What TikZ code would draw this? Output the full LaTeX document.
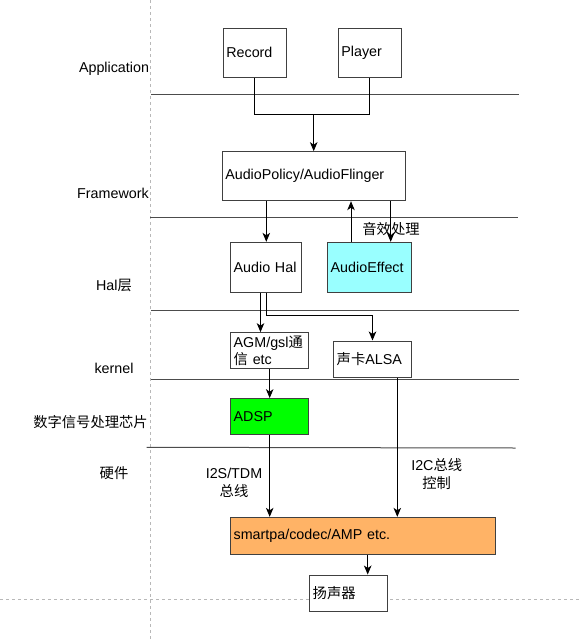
\documentclass[tikz,border=0pt]{standalone}
\usepackage{fontspec}
\setmainfont{Liberation Sans}
\newfontfamily\cjk{Noto Sans CJK SC}
\usetikzlibrary{arrows.meta}
\definecolor{effc}{HTML}{99FFFF}
\definecolor{dspc}{HTML}{00FF00}
\definecolor{ampc}{HTML}{FFB366}
\begin{document}
\begin{tikzpicture}[x=1pt,y=-1pt,
  every node/.style={font=\fontsize{14.3}{17.7}\selectfont},
  box/.style={draw=black!75, line width=1pt, fill=white, inner xsep=3pt, inner ysep=0pt, align=left},
  sepline/.style={draw=black!70, line width=1pt},
  arr/.style={draw=black, line width=1pt, -{Stealth[length=9pt,width=7.5pt,inset=2.5pt]}},
  wire/.style={draw=black, line width=1pt},
  guide/.style={draw=black!28, line width=0.8pt, dash pattern=on 3pt off 3pt},
  lbl/.style={align=center, inner sep=0pt}]
\useasboundingbox (0,0) rectangle (579,640);
% guides
\coordinate (gv1) at (150.7,0);
\coordinate (gv2) at (150.7,640);
\coordinate (gh1) at (0,599.3);
\coordinate (gh2) at (579,599.3);
\draw[guide] (gv1) -- (gv2);
\draw[guide] (gh1) -- (gh2);
% separators
\coordinate (s1a) at (151,94);    \coordinate (s1b) at (519,94);
\coordinate (s2a) at (150,217.7); \coordinate (s2b) at (518,217.7);
\coordinate (s3a) at (151,310);   \coordinate (s3b) at (519,310);
\coordinate (s4a) at (151,379.7); \coordinate (s4b) at (519,379.7);
\coordinate (s5a) at (146.7,447.3); \coordinate (s5b) at (515.7,448);
\draw[sepline] (s1a) -- (s1b);
\draw[sepline] (s2a) -- (s2b);
\draw[sepline] (s3a) -- (s3b);
\draw[sepline] (s4a) -- (s4b);
\draw[sepline] (s5a) -- (s5b);
% layer labels
\node[lbl] (lapp) at (114,69.3) {Application};
\node[lbl] (lfw) at (113,193.3) {Framework};
\node[lbl] (lhal) at (114,285) {Hal{\cjk 层}};
\node[lbl] (lker) at (114,368.3) {kernel};
\node[lbl] (ldsp) at (90.5,421.7) {\cjk 数字信号处理芯片};
\node[lbl] (lhw) at (114,473.3) {\cjk 硬件};
% boxes
\node[box, text width=56.7pt, minimum height=49pt] (rec) at (254.7,52.5) {Record};
\node[box, text width=56.7pt, minimum height=49pt] (ply) at (369.7,52.5) {Player};
\node[box, text width=177pt, minimum height=49pt] (apf) at (313.8,176.2) {AudioPolicy/AudioFlinger};
\node[box, text width=65.3pt, minimum height=49.7pt] (hal) at (266.3,267.2) {Audio Hal};
\node[box, fill=effc, text width=78pt, minimum height=49.7pt] (eff) at (369.7,267.2) {AudioEffect};
\node[box, text width=71.6pt, minimum height=36.3pt] (agm) at (269.5,350.8) {AGM/gsl{\cjk 通}\\{\cjk 信} etc};
\node[box, text width=71.6pt, minimum height=36pt] (alsa) at (372.5,359) {{\cjk 声卡}ALSA};
\node[box, fill=dspc, text width=71.6pt, minimum height=36.3pt] (adsp) at (269.5,416.8) {ADSP};
\node[box, fill=ampc, text width=259.3pt, minimum height=36.7pt] (amp) at (363.3,535.7) {smartpa/codec/AMP etc.};
\node[box, text width=71.6pt, minimum height=36.3pt] (spk) at (348.5,593.2) {\cjk 扬声器};
% labels
\node[lbl] (fxl) at (391,229.3) {\cjk 音效处理};
\node[lbl] (i2s) at (234,483) {I2S/TDM\\{\cjk 总线}};
\node[lbl] (i2c) at (436.7,474) {I2C{\cjk 总线}\\{\cjk 控制}};
% connectors
\coordinate (j) at (313.7,114.3);
\draw[wire] (rec.south) |- (j) -| (ply.south);
\draw[arr] (j) -- (j |- apf.north);
\draw[arr] (hal.north |- apf.south) -- (hal.north);
\coordinate (ux) at (351,0);
\coordinate (dx) at (390.7,0);
\draw[arr] (eff.north -| ux) -- (apf.south -| ux);
\draw[arr] (apf.south -| dx) -- (eff.north -| dx);
\coordinate (hl) at (260.5,0);
\coordinate (hr) at (266,315.7);
\draw[arr] (hal.south -| hl) -- (agm.north -| hl);
\draw[wire] (hal.south -| hr) -- (hr);
\draw[arr] (hr) -| (alsa.north);
\coordinate (cx) at (269.7,0);
\draw[arr] (agm.south -| cx) -- (adsp.north -| cx);
\draw[arr] (adsp.south -| cx) -- (amp.north -| cx);
\coordinate (ax) at (397.3,0);
\draw[arr] (alsa.south -| ax) -- (amp.north -| ax);
\coordinate (sx) at (367.7,0);
\draw[arr] (amp.south -| sx) -- (spk.north -| sx);
\end{tikzpicture}
\end{document}
